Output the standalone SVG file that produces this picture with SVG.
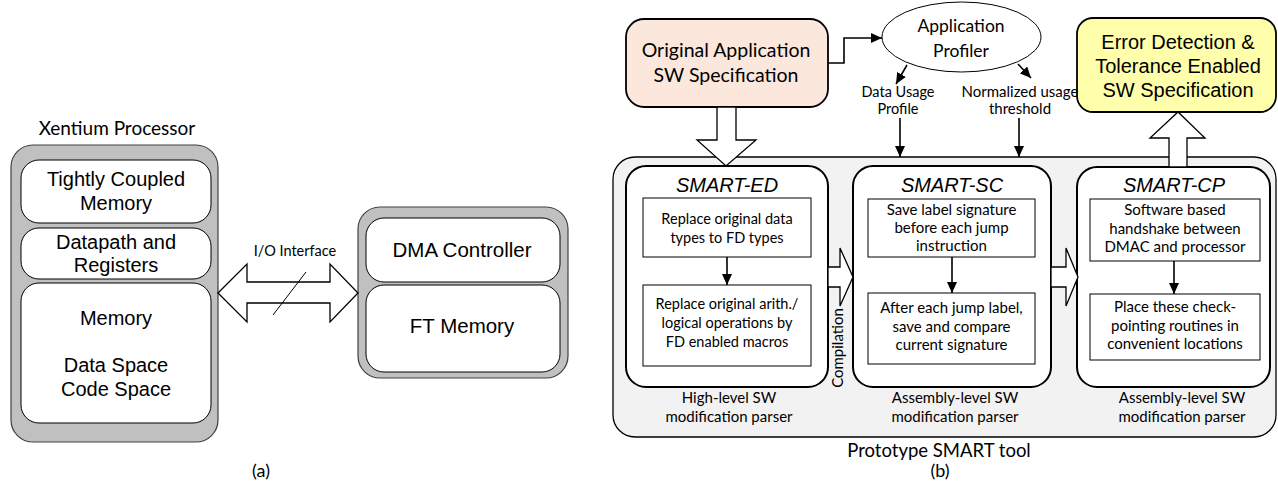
<svg xmlns="http://www.w3.org/2000/svg" width="1278" height="493" viewBox="0 0 1278 493">
<defs>
<style>
.ar{font-family:"Liberation Sans",Arial,sans-serif;fill:#000}
.ca{font-family:Lato,"Open Sans",sans-serif;fill:#000}
.mid{text-anchor:middle}
.gray{fill:#c0c0c0;stroke:#404040;stroke-width:1.2}
.inner{fill:#fff;stroke:#000;stroke-width:1}
.smart{fill:#fff;stroke:#000;stroke-width:2}
.step{fill:#fff;stroke:#000;stroke-width:1}
.blk{fill:#fff;stroke:#000;stroke-width:1.3}
.ln{fill:none;stroke:#000;stroke-width:1.6}
</style>
<marker id="ah" markerUnits="userSpaceOnUse" markerWidth="12" markerHeight="10" refX="11" refY="5" orient="auto">
<path d="M0,0 L11,5 L0,10 z" fill="#000"/>
</marker>
</defs>
<rect width="1278" height="493" fill="#fff"/>

<!-- (a) Xentium Processor -->
<g id="xentium">
<text class="ca mid" x="117" y="135" font-size="19">Xentium Processor</text>
<rect class="gray" x="11" y="145" width="207" height="297" rx="22"/>
</g>
<g id="tcm">
<rect class="inner" x="21" y="160" width="190" height="63" rx="18"/>
<text class="ar mid" x="116" y="186" font-size="20">Tightly Coupled</text>
<text class="ar mid" x="116" y="210" font-size="20">Memory</text>
</g>
<g id="datapath">
<rect class="inner" x="21" y="228" width="190" height="51" rx="18"/>
<text class="ar mid" x="116" y="249" font-size="20">Datapath and</text>
<text class="ar mid" x="116" y="272" font-size="20">Registers</text>
</g>
<g id="memory">
<rect class="inner" x="21" y="283" width="190" height="140" rx="18"/>
<text class="ar mid" x="116" y="325" font-size="20">Memory</text>
<text class="ar mid" x="116" y="372" font-size="20">Data Space</text>
<text class="ar mid" x="116" y="396" font-size="20">Code Space</text>
</g>

<g id="dma-unit">
<rect class="gray" x="358" y="207" width="210" height="171" rx="22"/>
</g>
<g id="dma">
<rect class="inner" x="366" y="218" width="194" height="64" rx="18"/>
<text class="ar mid" x="462" y="257" font-size="20.5">DMA Controller</text>
</g>
<g id="ftmem">
<rect class="inner" x="366" y="285" width="194" height="87" rx="18"/>
<text class="ar mid" x="462" y="333" font-size="20.5">FT Memory</text>
</g>

<g id="io">
<polygon class="blk" points="218,293 247,264 247,282 330,282 330,264 358,293 330,322 330,303 247,303 247,322"/>
<line x1="273" y1="315" x2="306" y2="272" stroke="#000" stroke-width="1"/>
<text class="ca mid" x="295" y="256" font-size="14.5">I/O Interface</text>
</g>

<text class="ca mid" x="261" y="477" font-size="18">(a)</text>

<!-- (b) SMART tool -->
<g id="tool">
<rect x="613" y="157" width="663" height="280" rx="22" fill="#f2f2f2" stroke="#000" stroke-width="1.3"/>
<text class="ca mid" x="939" y="457" font-size="18.5">Prototype SMART tool</text>
</g>

<g id="original">
<rect x="626" y="19" width="202" height="88" rx="18" fill="#fbe7db" stroke="#000" stroke-width="1.8"/>
<text class="ca mid" x="726" y="57" font-size="19.5">Original Application</text>
<text class="ca mid" x="726" y="82" font-size="19.5">SW Specification</text>
</g>

<g id="profiler">
<ellipse cx="961.5" cy="37" rx="79.5" ry="35" fill="#fff" stroke="#000" stroke-width="1"/>
<text class="ca mid" x="961" y="32" font-size="17.5">Application</text>
<text class="ca mid" x="961" y="57" font-size="17.5">Profiler</text>
</g>

<g id="errdet">
<rect x="1077" y="18" width="199" height="94" rx="16" fill="#fefeab" stroke="#000" stroke-width="1.8"/>
<text class="ar mid" x="1178" y="49" font-size="20">Error Detection &amp;</text>
<text class="ar mid" x="1178" y="73" font-size="20">Tolerance Enabled</text>
<text class="ar mid" x="1178" y="97" font-size="20">SW Specification</text>
</g>

<g id="smart-ed">
<rect class="smart" x="626" y="166" width="202" height="221" rx="20"/>
<text class="ar mid" x="727" y="192" font-size="20" font-style="italic">SMART-ED</text>
<rect class="step" x="643" y="198" width="168" height="59"/>
<text class="ca mid" x="727" y="224" font-size="14.5">Replace original data</text>
<text class="ca mid" x="727" y="243" font-size="14.5">types to FD types</text>
<rect class="step" x="643" y="285" width="168" height="81"/>
<text class="ca mid" x="727" y="309" font-size="14.5">Replace original arith./</text>
<text class="ca mid" x="727" y="328" font-size="14.5">logical operations by</text>
<text class="ca mid" x="727" y="347" font-size="14.5">FD enabled macros</text>
<text class="ca mid" x="729" y="403" font-size="15">High-level SW</text>
<text class="ca mid" x="729" y="422" font-size="15">modification parser</text>
</g>

<g id="smart-sc">
<rect class="smart" x="853" y="166" width="198" height="221" rx="20"/>
<text class="ar mid" x="952" y="192" font-size="20" font-style="italic">SMART-SC</text>
<rect class="step" x="868" y="199" width="167" height="58"/>
<text class="ca mid" x="951.5" y="215" font-size="15">Save label signature</text>
<text class="ca mid" x="951.5" y="233" font-size="15">before each jump</text>
<text class="ca mid" x="951.5" y="251" font-size="15">instruction</text>
<rect class="step" x="868" y="293" width="167" height="71"/>
<text class="ca mid" x="951.5" y="313" font-size="15">After each jump label,</text>
<text class="ca mid" x="951.5" y="332" font-size="15">save and compare</text>
<text class="ca mid" x="951.5" y="350" font-size="15">current signature</text>
<text class="ca mid" x="955" y="403" font-size="15">Assembly-level SW</text>
<text class="ca mid" x="955" y="422" font-size="15">modification parser</text>
</g>

<g id="smart-cp">
<rect class="smart" x="1077" y="167" width="193" height="220" rx="20"/>
<text class="ar mid" x="1174" y="192" font-size="20" font-style="italic">SMART-CP</text>
<rect class="step" x="1090" y="199" width="170" height="62"/>
<text class="ca mid" x="1175" y="215" font-size="15">Software based</text>
<text class="ca mid" x="1175" y="234" font-size="15">handshake between</text>
<text class="ca mid" x="1175" y="252" font-size="15">DMAC and processor</text>
<rect class="step" x="1090" y="294" width="170" height="66"/>
<text class="ca mid" x="1175" y="312" font-size="15">Place these check-</text>
<text class="ca mid" x="1175" y="331" font-size="15">pointing routines in</text>
<text class="ca mid" x="1175" y="349" font-size="15">convenient locations</text>
<text class="ca mid" x="1182" y="403" font-size="15">Assembly-level SW</text>
<text class="ca mid" x="1182" y="422" font-size="15">modification parser</text>
</g>

<g id="connectors">
<polygon class="blk" points="717,107 736,107 736,140 756,140 726,166 697,140 717,140"/>
<polygon class="blk" points="1169,167 1169,138 1150,138 1178,112 1205,138 1187,138 1187,167"/>
<polygon class="blk" points="828,267 840,267 840,248 853,277 840,306 840,287 828,287"/>
<polygon class="blk" points="1051,267 1066,267 1066,248 1078,277 1066,306 1066,287 1051,287"/>
<polyline class="ln" points="828,63 844,63 844,38 882,38" marker-end="url(#ah)"/>
<line class="ln" x1="907" y1="65" x2="896" y2="84" marker-end="url(#ah)"/>
<line class="ln" x1="1018" y1="64" x2="1031" y2="78" marker-end="url(#ah)"/>
<line class="ln" x1="900" y1="118" x2="900" y2="157" marker-end="url(#ah)"/>
<line class="ln" x1="1019" y1="118" x2="1019" y2="157" marker-end="url(#ah)"/>
<line class="ln" x1="727" y1="257" x2="727" y2="285" marker-end="url(#ah)"/>
<line class="ln" x1="952" y1="257" x2="952" y2="293" marker-end="url(#ah)"/>
<line class="ln" x1="1174" y1="261" x2="1174" y2="294" marker-end="url(#ah)"/>
<text class="ca mid" x="898" y="97" font-size="14.5">Data Usage</text>
<text class="ca mid" x="898" y="114" font-size="14.5">Profile</text>
<text class="ca mid" x="1020" y="97" font-size="15">Normalized usage</text>
<text class="ca mid" x="1020" y="114" font-size="15">threshold</text>
<text class="ca mid" transform="translate(843,348) rotate(-90)" font-size="15">Compilation</text>
</g>

<text class="ca mid" x="940" y="477" font-size="18">(b)</text>
</svg>
